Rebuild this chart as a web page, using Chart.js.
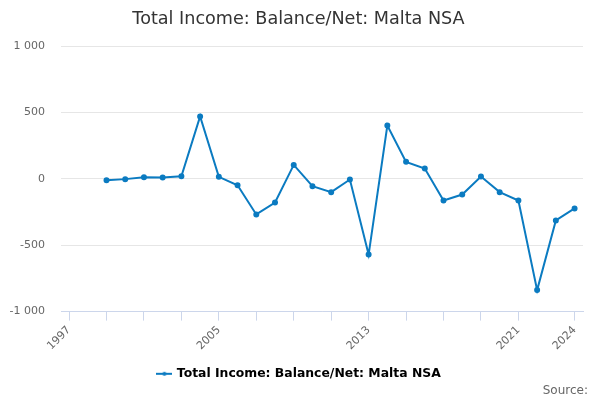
<!DOCTYPE html>
<html>
<head>
<meta charset="utf-8">
<script src="https://cdn.jsdelivr.net/npm/chart.js@4"></script>
<style>
  html, body { margin: 0; padding: 0; background: #fff; }
  #wrap { width: 600px; height: 400px; }
</style>
</head>
<body>
<div id="wrap"><canvas id="myChart" width="600" height="400"></canvas></div>
<script>
const years = [1999, 2000, 2001, 2002, 2003, 2004, 2005, 2006, 2007, 2008, 2009, 2010, 2011,
    2012, 2013, 2014, 2015, 2016, 2017, 2018, 2019, 2020, 2021, 2022, 2023, 2024];
const values = [-10, -2, 13, 10, 20, 470, 15, -48, -268, -178, 105, -55, -100,
    -5, -570, 402, 128, 78, -163, -118, 17, -100, -163, -838, -313, -223];
const tickYears = [1997, 1999, 2001, 2003, 2005, 2007, 2009, 2011, 2013, 2015, 2017, 2019, 2021, 2024];
const labelYears = [1997, 2005, 2013, 2021, 2024];
const yTicks = [-1000, -500, 0, 500, 1000];

const seriesName = 'Total Income: Balance/Net: Malta NSA';
const lineColor = '#0b7bc1';
const font = 'DejaVu Sans';

// little legend symbol: line with a dot in the middle
const legendIcon = document.createElement('canvas');
legendIcon.width = 16;
legendIcon.height = 10;
const ictx = legendIcon.getContext('2d');
ictx.strokeStyle = lineColor;
ictx.lineWidth = 2;
ictx.beginPath();
ictx.moveTo(0, 5);
ictx.lineTo(16, 5);
ictx.stroke();
ictx.fillStyle = lineColor;
ictx.beginPath();
ictx.arc(8, 5, 2, 0, Math.PI * 2);
ictx.fill();

// title and legend sit centred on the whole page, not the plot
const centrePlugin = {
    id: 'centre',
    afterLayout(chart) {
        if (chart.titleBlock) {
            chart.titleBlock.left += 7;
            chart.titleBlock.right += 7;
        }
        if (chart.legend) {
            chart.legend.left += 8;
            chart.legend.right += 8;
        }
    }
};

const sourcePlugin = {
    id: 'source',
    afterDraw(chart) {
        const c = chart.ctx;
        c.save();
        c.font = '12px "' + font + '"';
        c.fillStyle = '#666666';
        c.textAlign = 'right';
        c.textBaseline = 'middle';
        c.fillText('Source:', 588, 391);
        c.restore();
    }
};

const ctx = document.getElementById('myChart').getContext('2d');
const myChart = new Chart(ctx, {
    type: 'line',
    data: {
        datasets: [{
            label: seriesName,
            data: years.map((yr, i) => ({ x: yr, y: values[i] })),
            borderColor: lineColor,
            backgroundColor: lineColor,
            borderWidth: 2,
            pointRadius: 2,
            pointHoverRadius: 2,
            tension: 0,
            fill: false
        }]
    },
    options: {
        responsive: false,
        animation: false,
        events: [],
        layout: { padding: { left: 0, right: 17, top: 0, bottom: 10 } },
        plugins: {
            title: {
                display: true,
                text: 'Total Income: Balance/Net: Malta NSA',
                color: '#333333',
                font: { family: font, size: 17.6, weight: 'normal' },
                padding: { top: 9, bottom: 16 }
            },
            legend: {
                position: 'bottom',
                labels: {
                    color: '#333333',
                    font: { family: font, size: 12.4, weight: 'bold' },
                    usePointStyle: true,
                    generateLabels: () => [{
                        text: seriesName,
                        pointStyle: legendIcon,
                        fillStyle: lineColor,
                        strokeStyle: lineColor,
                        lineWidth: 0,
                        datasetIndex: 0
                    }]
                }
            },
            tooltip: { enabled: false }
        },
        scales: {
            x: {
                type: 'linear',
                min: 1996.57,
                max: 2024.45,
                afterBuildTicks: scale => {
                    scale.ticks = tickYears.map(v => ({ value: v }));
                },
                afterFit: scale => { scale.height = 46; },
                grid: {
                    drawOnChartArea: false,
                    drawTicks: true,
                    tickLength: 9,
                    color: '#ccd6eb'
                },
                border: { color: '#ccd6eb' },
                ticks: {
                    autoSkip: false,
                    maxRotation: 45,
                    minRotation: 45,
                    color: '#666666',
                    font: { family: font, size: 11 },
                    callback: v => labelYears.includes(v) ? String(v) : ''
                }
            },
            y: {
                min: -1000,
                max: 1000,
                afterBuildTicks: scale => {
                    scale.ticks = yTicks.map(v => ({ value: v }));
                },
                afterFit: scale => { scale.width = 61; },
                grid: { color: '#e6e6e6', drawTicks: false },
                border: { display: false },
                ticks: {
                    padding: 16,
                    color: '#666666',
                    font: { family: font, size: 11 },
                    callback: v => String(v).replace(/\B(?=(\d{3})+(?!\d))/g, ' ')
                }
            }
        }
    },
    plugins: [centrePlugin, sourcePlugin]
});
</script>
</body>
</html>
